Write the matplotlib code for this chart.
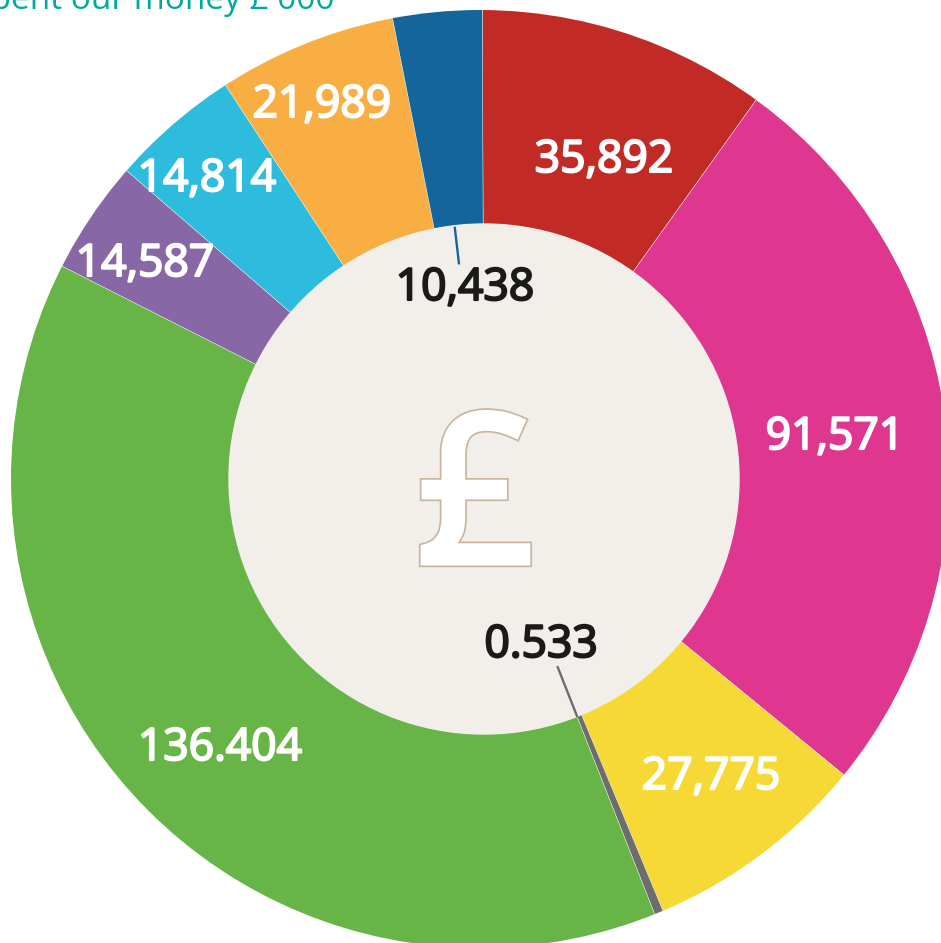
import matplotlib.pyplot as plt
import matplotlib.patheffects as pe
import numpy as np

labels = ['35,892', '91,571', '27,775', '0.533', '136.404', '14,587', '14,814', '21,989', '10,438']
# slice sizes in degrees (the drawn slices differ a bit from the printed figures)
slice_deg = [35.8, 93.7, 28.1, 1.1, 138.3, 14.0, 15.9, 22.0, 11.0]
colors = ['#c22a25', '#df3790', '#f6d935', '#6d6d6d', '#67b546', '#8767a5', '#2dbbde', '#f8ae42', '#13659b']
text_colors = ['white', 'white', 'white', '#1a1a1a', 'white', 'white', 'white', 'white', '#1a1a1a']

# label positions in picture pixels (x, baseline y)
label_x = [604, 835, 711, 541, 220, 145, 207, 322, 465]
label_y = [172, 449, 789, 657, 760, 276, 191, 117, 300]

title = 'How we spent our money £ 000'

W, H = 941, 943
apex_x, apex_y = 484, H - 480
ring_x, ring_y, r_out = 480, H - 479, 469
hole_x, hole_y, r_in = 484, H - 479, 255

plt.rcParams['font.family'] = ['Open Sans', 'DejaVu Sans']

fig = plt.figure(figsize=(W / 100, H / 100), dpi=100)
ax = fig.add_axes([0, 0, 1, 1])

# the ring is not quite concentric with the slice apex, so draw big slices and clip them
wedges, _ = ax.pie(slice_deg, colors=colors, startangle=90.2, counterclock=False,
                   center=(apex_x, apex_y), radius=520,
                   wedgeprops=dict(edgecolor='#f4f0ea', linewidth=0.3))

ax.set_xlim(0, W)
ax.set_ylim(0, H)
ax.set_aspect('equal')
ax.axis('off')

ring = plt.Circle((ring_x, ring_y), r_out, transform=ax.transData)
for w in wedges:
    w.set_clip_on(True)
    w.set_clip_path(ring)
ax.add_patch(plt.Circle((hole_x, hole_y), r_in, color='#f2efea', zorder=3))

# leader lines for the two small slices
for i, ang, r0 in [(3, 158.5, 200), (8, 353.4, 217)]:
    a = np.radians(ang)
    xs = [apex_x + r0 * np.sin(a), apex_x + r_in * np.sin(a)]
    ys = [apex_y + r0 * np.cos(a), apex_y + r_in * np.cos(a)]
    ax.plot(xs, ys, color=colors[i], lw=1.7, solid_capstyle='butt', zorder=4)

for i in range(len(labels)):
    ax.text(label_x[i], H - label_y[i], labels[i], color=text_colors[i], fontsize=32,
            ha='center', va='baseline', zorder=5,
            path_effects=[pe.withStroke(linewidth=1.5, foreground=text_colors[i])])

ax.text(476, H - 562, '£', color='white', fontsize=148, ha='center', va='baseline', zorder=5,
        path_effects=[pe.withStroke(linewidth=7.5, foreground='#c8b79c', joinstyle='miter'),
                      pe.withStroke(linewidth=5, foreground='white', joinstyle='miter')])

ax.text(335, H - 9, title, color='#00a99d', fontsize=24, ha='right', va='baseline', zorder=5)

fig.savefig('out.png', dpi=100)
